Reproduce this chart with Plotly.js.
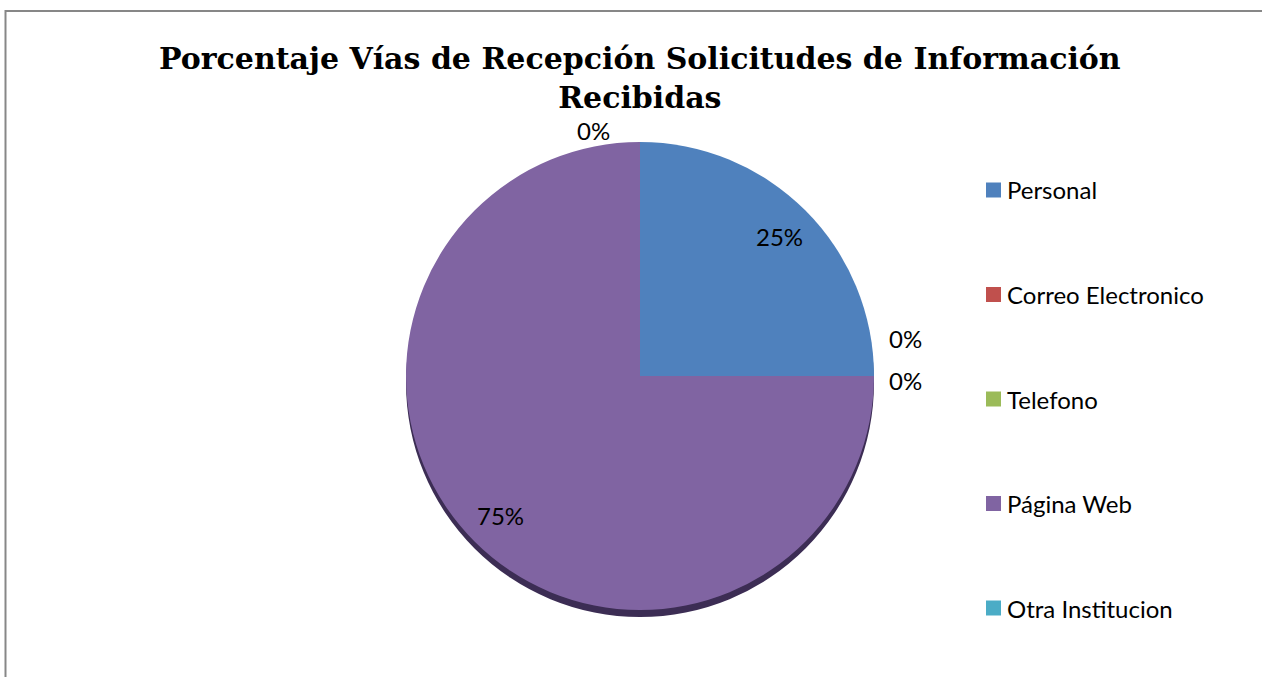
<!DOCTYPE html>
<html>
<head>
<meta charset="utf-8">
<script src="https://cdn.plot.ly/plotly-3.0.1.min.js"></script>
<style>
  html, body { margin: 0; padding: 0; background: #ffffff; }
  #chart { width: 1262px; height: 677px; }
</style>
</head>
<body>
<div id="chart"></div>
<script>
// ---- data ----
const categories = ["Personal", "Correo Electronico", "Telefono", "Página Web", "Otra Institucion"];
const values = [1, 0, 0, 3, 0];
const sliceColors = ["#4F81BD", "#C0504D", "#9BBB59", "#8064A2", "#4BACC6"];
const shadowColors = ["#2B4668", "#6A2C2A", "#556731", "#3C2D54", "#2A5F6D"];
const chartTitle = "Porcentaje Vías de Recepción Solicitudes de Información<br>Recibidas";

// ---- layout constants (pixels) ----
const W = 1262, H = 677;
const CX = 640, CY = 376, R = 234;
const SHADOW = 7;
const labelFont = { family: "Lato, 'Liberation Sans', sans-serif", size: 24, color: "#000000" };

function px2x(p) { return p / W; }
function py2y(p) { return 1 - p / H; }

const mainDomain = { x: [px2x(CX - R), px2x(CX + R)], y: [py2y(CY + R), py2y(CY - R)] };
const shadowDomain = { x: mainDomain.x, y: [py2y(CY + R + SHADOW), py2y(CY - R + SHADOW)] };

const total = values.reduce((a, b) => a + b, 0);

// label placement computed from the data (angles clockwise from 12 o'clock)
const annotations = [];
// nudges for zero-size slice labels (pixel offsets, like Excel's best-fit placement)
const zeroNudge = { 1: [0, -38], 2: [0, 5], 4: [-46, 19] };
let cum = 0;
values.forEach((v, i) => {
  const start = cum / total * 360;
  cum += v;
  const end = cum / total * 360;
  const mid = (start + end) / 2 * Math.PI / 180;
  const pct = Math.round(v / total * 100) + "%";
  let rr, dx = 0, dy = 0;
  if (v > 0) {
    rr = R * 0.845;
  } else {
    rr = R + 31;
    const n = zeroNudge[i] || [0, 0];
    dx = n[0]; dy = n[1];
  }
  const lx = CX + rr * Math.sin(mid) + dx;
  const ly = CY - rr * Math.cos(mid) + dy;
  annotations.push({
    xref: "paper", yref: "paper", x: px2x(lx), y: py2y(ly),
    xanchor: "center", yanchor: "middle", showarrow: false,
    text: pct, font: labelFont
  });
});

// manual legend (matches the spacing of the original)
const shapes = [];
const legX = 986, legY0 = 190, legStep = 104.5, sq = 15;
categories.forEach((c, i) => {
  const yc = legY0 + i * legStep;
  shapes.push({
    type: "rect", xref: "paper", yref: "paper",
    x0: px2x(legX), x1: px2x(legX + sq), y0: py2y(yc + sq / 2), y1: py2y(yc - sq / 2),
    fillcolor: sliceColors[i], line: { width: 0 }
  });
  annotations.push({
    xref: "paper", yref: "paper", x: px2x(legX + sq + 4), y: py2y(yc),
    xanchor: "left", yanchor: "middle", showarrow: false,
    text: c, font: labelFont
  });
});

// chart border (left and top edges visible)
shapes.push({
  type: "path", xref: "paper", yref: "paper", layer: "below",
  path: `M ${px2x(5.5)} 0 L ${px2x(5.5)} ${py2y(11)} L 1.01 ${py2y(11)}`,
  line: { color: "#878787", width: 2 }
});

const traces = [
  {
    type: "pie", labels: categories, values: values, sort: false,
    direction: "clockwise", rotation: 0, domain: shadowDomain,
    marker: { colors: shadowColors, line: { width: 0 } },
    textinfo: "none", hoverinfo: "skip", showlegend: false
  },
  {
    type: "pie", labels: categories, values: values, sort: false,
    direction: "clockwise", rotation: 0, domain: mainDomain,
    marker: { colors: sliceColors, line: { width: 0 } },
    textinfo: "none", showlegend: false
  }
];

const layout = {
  width: W, height: H,
  margin: { l: 0, r: 0, t: 0, b: 0 },
  paper_bgcolor: "#ffffff",
  showlegend: false,
  title: {
    text: chartTitle,
    x: 0.507, xanchor: "center",
    y: py2y(69), yanchor: "top",
    font: { family: "'DejaVu Serif', 'Liberation Serif', serif", size: 30, color: "#000000", weight: "bold" }
  },
  annotations: annotations,
  shapes: shapes
};

Plotly.newPlot("chart", traces, layout, { displayModeBar: false, staticPlot: true });
</script>
</body>
</html>
